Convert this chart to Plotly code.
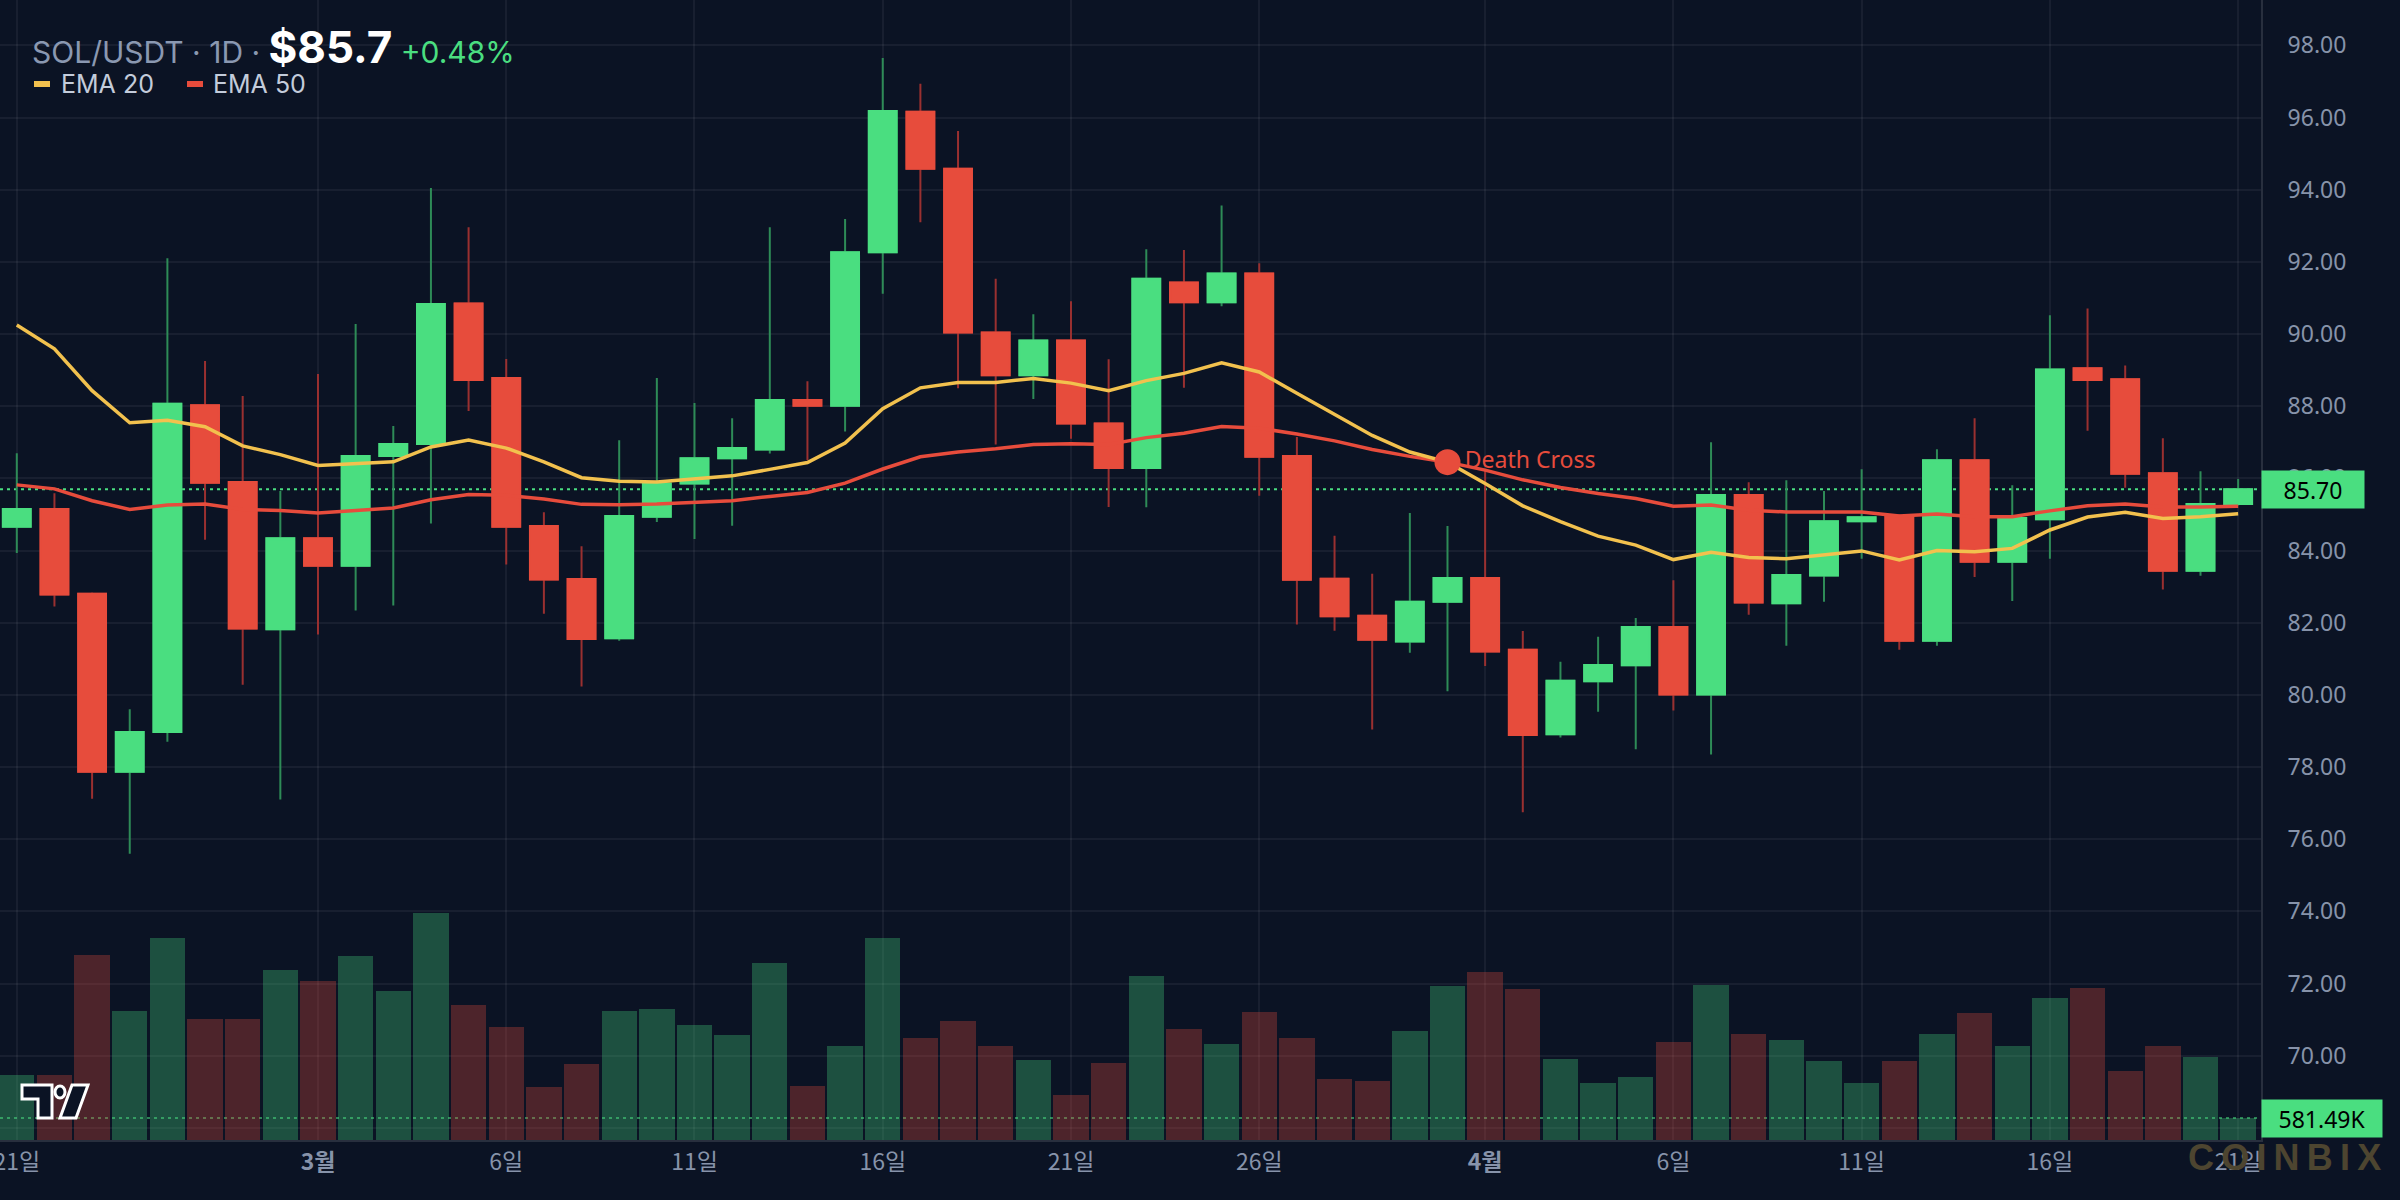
import plotly.graph_objects as go
import pandas as pd

# ---------------- data ----------------
dates = [d.strftime('%Y-%m-%d') for d in pd.date_range('2026-02-21', '2026-04-21', freq='D')]

opens = [84.66, 85.15, 82.80, 77.87, 78.97, 88.03, 85.90, 81.82, 84.34, 83.58,
         86.62, 86.95, 90.85, 88.78, 84.68, 83.21, 81.57, 84.94, 85.86, 86.56,
         86.80, 88.17, 88.01, 92.27, 96.16, 94.58, 90.04, 88.86, 89.82, 87.52,
         86.29, 91.43, 90.88, 91.68, 86.62, 83.22, 82.19, 81.48, 82.58, 83.24,
         81.25, 78.91, 80.38, 80.82, 81.88, 80.01, 85.54, 82.54, 83.31, 84.81,
         84.96, 81.50, 86.50, 83.69, 84.87, 89.05, 88.75, 86.14, 83.44, 85.29]
highs = [86.70, 85.59, 82.84, 79.60, 92.10, 89.25, 88.28, 85.65, 88.89, 90.28,
         87.45, 94.05, 92.96, 89.31, 85.06, 84.12, 87.06, 88.78, 88.09, 87.67,
         92.96, 88.69, 93.19, 97.65, 96.94, 95.63, 91.53, 90.55, 90.91, 89.30,
         92.35, 92.33, 93.56, 91.96, 87.15, 84.41, 83.36, 85.04, 84.68, 86.24,
         81.77, 80.92, 81.61, 82.13, 83.18, 87.00, 85.89, 85.95, 85.65, 86.25,
         85.00, 86.81, 87.67, 85.81, 90.52, 90.71, 89.13, 87.11, 86.20, 85.98]
lows = [83.93, 82.45, 77.12, 75.60, 78.70, 84.30, 80.28, 77.10, 81.67, 82.34,
        82.48, 84.75, 87.87, 83.61, 82.25, 80.23, 81.50, 84.79, 84.32, 84.69,
        86.69, 86.50, 87.30, 91.12, 93.10, 88.50, 86.94, 88.20, 87.10, 85.21,
        85.20, 88.51, 90.77, 85.52, 81.95, 81.78, 79.04, 81.17, 80.10, 80.80,
        76.75, 78.82, 79.53, 78.49, 79.57, 78.35, 82.22, 81.36, 82.58, 83.77,
        81.25, 81.36, 83.27, 82.60, 83.77, 87.32, 85.74, 82.92, 83.30, 85.25]
closes = [85.15, 82.78, 77.87, 78.97, 88.07, 85.88, 81.84, 84.34, 83.58, 86.62,
          86.95, 90.83, 88.73, 84.66, 83.20, 81.55, 84.96, 85.86, 86.56, 86.84,
          88.17, 88.01, 92.27, 96.18, 94.58, 90.04, 88.86, 89.82, 87.52, 86.29,
          91.53, 90.88, 91.68, 86.60, 83.19, 82.18, 81.53, 82.58, 83.24, 81.20,
          78.89, 80.39, 80.83, 81.88, 80.01, 85.54, 82.56, 83.32, 84.81, 84.92,
          81.50, 86.50, 83.69, 84.90, 89.02, 88.73, 86.13, 83.44, 85.29, 85.70]

# volume in thousands
volume_k = [1718, 1718, 4890, 3410, 5339, 3198, 3198, 4493, 4202, 4863,
            3938, 6000, 3568, 2987, 1401, 2009, 3410, 3462, 3039, 2775,
            4678, 1427, 2484, 5339, 2696, 3145, 2484, 2114, 1189, 2035,
            4335, 2934, 2537, 3383, 2696, 1612, 1559, 2881, 4070, 4440,
            3991, 2141, 1507, 1665, 2590, 4097, 2802, 2643, 2088, 1507,
            2088, 2802, 3357, 2484, 3753, 4017, 1824, 2484, 2194, 581.49]

ema20 = [90.25, 89.59, 88.43, 87.54, 87.61, 87.43, 86.90, 86.66, 86.36, 86.41,
         86.46, 86.87, 87.06, 86.84, 86.46, 86.02, 85.92, 85.90, 85.99, 86.07,
         86.25, 86.44, 86.98, 87.93, 88.51, 88.66, 88.66, 88.77, 88.64, 88.43,
         88.71, 88.91, 89.20, 88.95, 88.36, 87.78, 87.19, 86.73, 86.45, 85.86,
         85.24, 84.80, 84.40, 84.15, 83.75, 83.95, 83.81, 83.77, 83.87, 83.99,
         83.74, 84.00, 83.97, 84.06, 84.57, 84.93, 85.06, 84.89, 84.94, 85.02]
ema50 = [85.82, 85.71, 85.38, 85.14, 85.26, 85.29, 85.14, 85.11, 85.04, 85.12,
         85.18, 85.41, 85.55, 85.53, 85.43, 85.28, 85.27, 85.29, 85.33, 85.38,
         85.50, 85.61, 85.87, 86.26, 86.60, 86.73, 86.82, 86.94, 86.96, 86.94,
         87.13, 87.25, 87.44, 87.39, 87.23, 87.04, 86.80, 86.61, 86.45, 86.23,
         85.96, 85.75, 85.58, 85.44, 85.23, 85.26, 85.12, 85.07, 85.07, 85.07,
         84.96, 85.01, 84.94, 84.94, 85.10, 85.24, 85.29, 85.21, 85.21, 85.23]

death_cross_date = '2026-03-31'
death_cross_value = 86.45

tick_dates = ['2026-02-21', '2026-03-01', '2026-03-06', '2026-03-11', '2026-03-16', '2026-03-21',
              '2026-03-26', '2026-04-01', '2026-04-06', '2026-04-11', '2026-04-16', '2026-04-21']
tick_labels = ['21일', '<b>3월</b>', '6일', '11일', '16일', '21일',
               '26일', '<b>4월</b>', '6일', '11일', '16일', '21일']
price_ticks = [68, 70, 72, 74, 76, 78, 80, 82, 84, 86, 88, 90, 92, 94, 96, 98]

symbol = 'SOL/USDT'
interval = '1D'

# ---------------- style ----------------
BG = '#0b1324'
GRID = 'rgba(255,255,255,0.055)'
UP = '#4ade80'
DN = '#e74c3c'
UP_WICK = '#2e8b57'
DN_WICK = '#9a3030'
EMA20_C = '#f2c14e'
EMA50_C = '#e74c3c'
AXIS_TXT = '#8793aa'

W, H = 2400, 1200
ML, MR, MT, MB = 0, 139, 0, 60
PW, PH = W - ML - MR, H - MT - MB


def px(xp):
    return xp / PW


def py(yp):
    return 1 - yp / PH


fig = go.Figure()

vol_colors = ['rgba(74,222,128,0.30)' if c >= o else 'rgba(231,76,60,0.30)'
              for o, c in zip(opens, closes)]
fig.add_trace(go.Bar(x=dates, y=volume_k, yaxis='y2', marker=dict(color=vol_colors, line=dict(width=0)),
                     width=0.94 * 86400000, showlegend=False, hoverinfo='skip'))

# wicks
fig.add_trace(go.Candlestick(
    x=dates, open=opens, high=highs, low=lows, close=closes, whiskerwidth=0,
    increasing=dict(line=dict(color=UP_WICK, width=2), fillcolor=UP),
    decreasing=dict(line=dict(color=DN_WICK, width=2), fillcolor=DN),
    showlegend=False, hoverinfo='skip'))
# bodies
body_hi = [max(o, c) for o, c in zip(opens, closes)]
body_lo = [min(o, c) for o, c in zip(opens, closes)]
fig.add_trace(go.Candlestick(
    x=dates, open=opens, high=body_hi, low=body_lo, close=closes, whiskerwidth=0,
    increasing=dict(line=dict(color=UP, width=2), fillcolor=UP),
    decreasing=dict(line=dict(color=DN, width=2), fillcolor=DN),
    showlegend=False, hoverinfo='skip'))

fig.add_trace(go.Scatter(x=dates, y=ema50, mode='lines', line=dict(color=EMA50_C, width=3.5),
                         name='EMA 50', showlegend=False))
fig.add_trace(go.Scatter(x=dates, y=ema20, mode='lines', line=dict(color=EMA20_C, width=3.5),
                         name='EMA 20', showlegend=False))
fig.add_trace(go.Scatter(x=[death_cross_date], y=[death_cross_value], mode='markers+text',
                         marker=dict(size=26, color=DN), text=['Death Cross'],
                         textposition='middle right',
                         textfont=dict(family='Noto Sans', size=23, color=DN),
                         showlegend=False))

x0 = pd.Timestamp(dates[0]) - pd.Timedelta(hours=0.446 * 24)
x1 = pd.Timestamp(dates[-1]) + pd.Timedelta(hours=0.607 * 24)

last_close = closes[-1]
prev_close = closes[-2]
chg = (last_close / prev_close - 1) * 100

shapes = [
    dict(type='line', xref='paper', x0=0, x1=1, yref='y', y0=last_close, y1=last_close,
         line=dict(color=UP, width=2, dash='3px,4px'), layer='below'),
    dict(type='line', xref='paper', x0=0, x1=1, yref='y2', y0=volume_k[-1], y1=volume_k[-1],
         line=dict(color='rgba(74,222,128,0.55)', width=2, dash='3px,4px'), layer='below'),
    # legend swatches
    dict(type='line', xref='paper', yref='paper', x0=px(34), x1=px(50), y0=py(84), y1=py(84),
         line=dict(color=EMA20_C, width=6)),
    dict(type='line', xref='paper', yref='paper', x0=px(187), x1=px(203), y0=py(84), y1=py(84),
         line=dict(color=EMA50_C, width=6)),
]

# TradingView-like logo
def path(points):
    s = 'M ' + ' L '.join(f'{px(a):.5f},{py(b):.5f}' for a, b in points) + ' Z'
    return s

shapes += [
    dict(type='path', xref='paper', yref='paper',
         path=path([(22, 1085), (52, 1085), (52, 1118), (38, 1118), (38, 1099), (22, 1099)]),
         fillcolor=BG, line=dict(color='white', width=3)),
    dict(type='circle', xref='paper', yref='paper', x0=px(55), x1=px(65), y0=py(1086), y1=py(1098),
         fillcolor=BG, line=dict(color='white', width=3)),
    dict(type='path', xref='paper', yref='paper',
         path=path([(72, 1085), (88, 1085), (76, 1118), (60, 1118)]),
         fillcolor=BG, line=dict(color='white', width=3)),
]

annotations = [
    dict(xref='paper', yref='paper', x=px(30), y=py(47), xanchor='left', yanchor='middle',
         showarrow=False,
         text=(f'<span style="color:#8a98b1">{symbol} · {interval} · </span>'
               f'<b><span style="color:#ffffff;font-size:44px">${last_close:.1f}</span></b>'
               f'<span style="color:{UP}"> {chg:+.2f}%</span>'),
         font=dict(family='Inter', size=30, color='#8a98b1')),
    dict(xref='paper', yref='paper', x=px(59), y=py(84), xanchor='left', yanchor='middle',
         showarrow=False, text='EMA 20', font=dict(family='Inter', size=25, color='#c3ccdb')),
    dict(xref='paper', yref='paper', x=px(211), y=py(84), xanchor='left', yanchor='middle',
         showarrow=False, text='EMA 50', font=dict(family='Inter', size=25, color='#c3ccdb')),
    dict(xref='paper', yref='y', x=1, y=last_close, xanchor='left', yanchor='middle',
         showarrow=False, text=f'{last_close:.2f}', bgcolor=UP, width=100, height=35,
         font=dict(family='Noto Sans', size=23, color='#000000'), align='center'),
    dict(xref='paper', yref='y2', x=1, y=volume_k[-1], xanchor='left', yanchor='middle',
         showarrow=False, text=f'{volume_k[-1]:.2f}K', bgcolor=UP, width=118, height=35,
         font=dict(family='Noto Sans', size=23, color='#000000'), align='center'),
    dict(xref='paper', yref='paper', x=px(2284), y=py(1157), xanchor='center', yanchor='middle',
         showarrow=False, text='C\u2009O\u2009I\u2009N\u2009B\u2009I\u2009X',
         font=dict(family='Liberation Sans', size=36, color='#4d4530', weight='bold')),
]

fig.update_layout(
    width=W, height=H,
    margin=dict(l=ML, r=MR, t=MT, b=MB, pad=0),
    paper_bgcolor=BG, plot_bgcolor=BG,
    showlegend=False, boxgap=0.26, boxgroupgap=0, bargap=0,
    xaxis=dict(type='date', range=[x0, x1], rangeslider=dict(visible=False),
               tickvals=tick_dates, ticktext=tick_labels, showgrid=True, gridcolor=GRID, gridwidth=2,
               ticks='', showline=True, linecolor='rgba(255,255,255,0.12)', linewidth=2,
               tickfont=dict(family='Noto Sans CJK KR', size=23, color=AXIS_TXT),
               ticklabeloverflow='allow',
               automargin=False, zeroline=False, fixedrange=True),
    yaxis=dict(side='right', range=[67.664, 99.258], tickvals=price_ticks, tickformat='.2f',
               showgrid=True, gridcolor=GRID, gridwidth=2, ticks='', ticklabelstandoff=20,
               showline=True, linecolor='rgba(255,255,255,0.12)', linewidth=2,
               tickfont=dict(family='Noto Sans', size=23, color=AXIS_TXT), automargin=False,
               zeroline=False),
    yaxis2=dict(overlaying='y', range=[0, 30130], visible=False, showgrid=False),
    shapes=shapes, annotations=annotations,
)

fig.write_html('out.html')
